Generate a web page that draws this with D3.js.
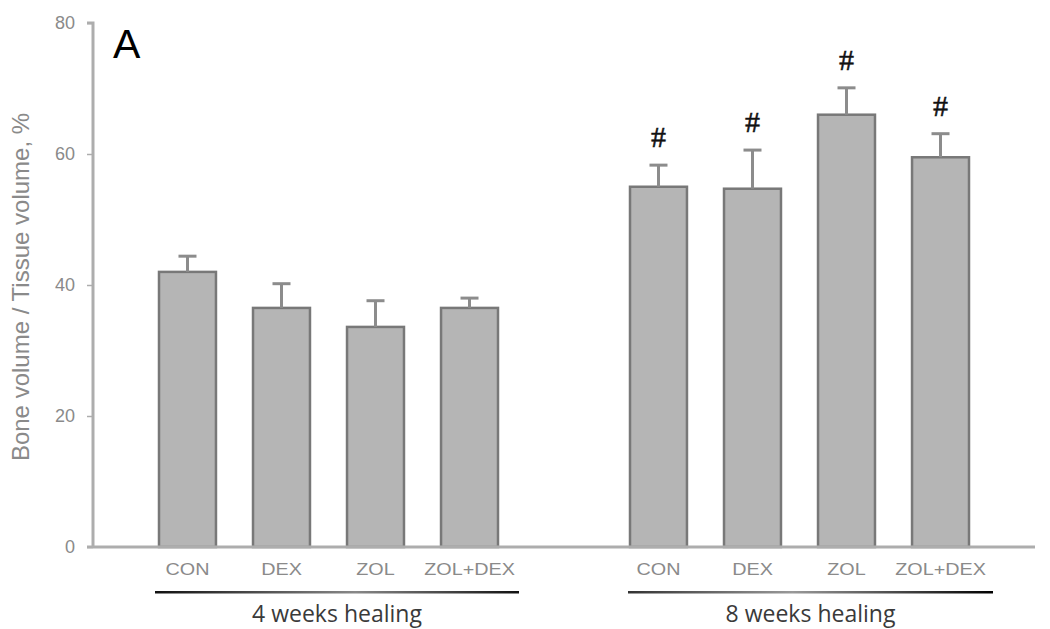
<!DOCTYPE html>
<html><head><meta charset="utf-8">
<script src="https://cdn.jsdelivr.net/npm/d3@7"></script>
<style>body{margin:0;background:#fff}svg{display:block}</style>
</head><body>
<svg id="chart" width="1050" height="629"></svg>
<script>
const categories = ["CON", "DEX", "ZOL", "ZOL+DEX"];
const groups = ["4 weeks healing", "8 weeks healing"];
const means4 = [42.0, 36.5, 33.6, 36.5];
const errs4  = [2.4, 3.7, 4.0, 1.5];
const means8 = [55.0, 54.7, 66.0, 59.5];
const errs8  = [3.3, 5.9, 4.1, 3.6];
const sig8   = ["#", "#", "#", "#"];
const yTicks = [0, 20, 40, 60, 80];

const svg = d3.select("#chart");
const y = d3.scaleLinear().domain([0, 80]).range([547, 23]);

const x4 = d3.scaleBand().domain(categories).range([159, 498]).paddingInner(0.394).paddingOuter(0);
const x8 = d3.scaleBand().domain(categories).range([630, 969]).paddingInner(0.394).paddingOuter(0);

const data = [];
categories.forEach((c, i) => data.push({g: 0, c, v: means4[i], e: errs4[i], s: null, x: x4}));
categories.forEach((c, i) => data.push({g: 1, c, v: means8[i], e: errs8[i], s: sig8[i], x: x8}));
const cx = d => d.x(d.c) + d.x.bandwidth() / 2;

// Y axis
const yAxis = d3.axisLeft(y).tickValues(yTicks).tickSize(6).tickPadding(12);
const ya = svg.append("g").attr("transform", "translate(93,0)").call(yAxis);
ya.select(".domain").attr("stroke", "#adadad").attr("stroke-width", 3).attr("d", "M-6,23H0V547");
ya.selectAll(".tick line").attr("stroke", "#adadad").attr("stroke-width", 1.5);
ya.selectAll(".tick text").attr("fill", "#8a8a8a").attr("font-family", "Liberation Sans, Arial, sans-serif").attr("font-size", 18);

svg.append("text")
  .attr("transform", "translate(29,287) rotate(-90)")
  .attr("text-anchor", "middle")
  .attr("fill", "#8a8a8a")
  .attr("font-family", "Liberation Sans, Arial, sans-serif")
  .attr("font-size", 24)
  .text("Bone volume / Tissue volume, %");

// Bars
svg.append("g").selectAll("rect").data(data).join("rect")
  .attr("x", d => d.x(d.c))
  .attr("y", d => y(d.v))
  .attr("width", d => d.x.bandwidth())
  .attr("height", d => y(0) - y(d.v))
  .attr("fill", "#b5b5b5")
  .attr("stroke", "#787878")
  .attr("stroke-width", 2.5);

// Error bars
const eb = svg.append("g").attr("stroke", "#8c8c8c");
eb.selectAll("line.stem").data(data).join("line").attr("class", "stem")
  .attr("x1", cx).attr("x2", cx)
  .attr("y1", d => y(d.v)).attr("y2", d => y(d.v + d.e))
  .attr("stroke-width", 3);
eb.selectAll("line.cap").data(data).join("line").attr("class", "cap")
  .attr("x1", d => cx(d) - 9).attr("x2", d => cx(d) + 9)
  .attr("y1", d => y(d.v + d.e)).attr("y2", d => y(d.v + d.e))
  .attr("stroke-width", 3);

// X axis line
svg.append("line").attr("x1", 87).attr("x2", 1035).attr("y1", y(0)).attr("y2", y(0))
  .attr("stroke", "#adadad").attr("stroke-width", 3);

// Significance marks
svg.append("g").selectAll("text").data(data.filter(d => d.s)).join("text")
  .attr("x", cx)
  .attr("y", d => y(d.v + d.e) - 18)
  .attr("text-anchor", "middle")
  .attr("fill", "#111")
  .attr("stroke", "#111").attr("stroke-width", 0.5)
  .attr("font-family", "Liberation Serif, Times New Roman, serif")
  .attr("font-size", 30)
  .text(d => d.s);

// Category labels (horizontally stretched like the source)
svg.append("g").selectAll("text").data(data).join("text")
  .attr("transform", d => `translate(${cx(d)},575) scale(1.2,1)`)
  .attr("text-anchor", "middle")
  .attr("fill", "#8a8a8a")
  .attr("font-family", "Liberation Sans, Arial, sans-serif")
  .attr("font-size", 16.5)
  .text(d => d.c);

// Group lines & labels
const defs = svg.append("defs");
const g1 = defs.append("linearGradient").attr("id", "gr1");
g1.append("stop").attr("offset", "0%").attr("stop-color", "#111");
g1.append("stop").attr("offset", "55%").attr("stop-color", "#888");
g1.append("stop").attr("offset", "100%").attr("stop-color", "#111");
const g2 = defs.append("linearGradient").attr("id", "gr2");
g2.append("stop").attr("offset", "0%").attr("stop-color", "#333");
g2.append("stop").attr("offset", "45%").attr("stop-color", "#999");
g2.append("stop").attr("offset", "100%").attr("stop-color", "#000");

const groupSpans = [
  {name: groups[0], x1: 155, x2: 519, grad: "url(#gr1)"},
  {name: groups[1], x1: 628, x2: 993, grad: "url(#gr2)"}
];
svg.append("g").selectAll("rect").data(groupSpans).join("rect")
  .attr("x", d => d.x1).attr("y", 591).attr("width", d => d.x2 - d.x1).attr("height", 2.5)
  .attr("fill", d => d.grad);
svg.append("g").selectAll("text").data(groupSpans).join("text")
  .attr("x", d => (d.x1 + d.x2) / 2)
  .attr("y", 622)
  .attr("text-anchor", "middle")
  .attr("fill", "#3a3a3a")
  .attr("font-family", "Open Sans, sans-serif")
  .attr("font-size", 23)
  .text(d => d.name);

// Panel letter
svg.append("text").attr("x", 113).attr("y", 58)
  .attr("fill", "#000")
  .attr("font-family", "Liberation Sans, Arial, sans-serif")
  .attr("font-size", 41)
  .text("A");
</script>
</body></html>
